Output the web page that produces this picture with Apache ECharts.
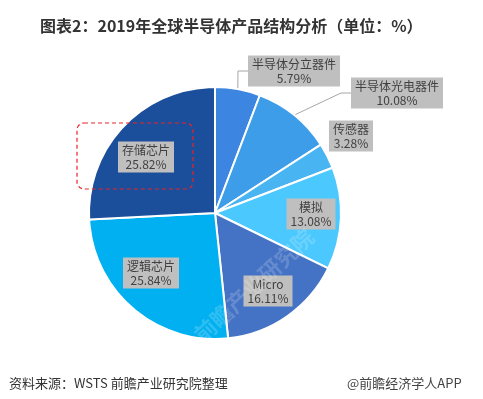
<!DOCTYPE html>
<html>
<head>
    <meta charset="utf-8">
    <title>2019年全球半导体产品结构分析</title>
    <script src="https://cdn.jsdelivr.net/npm/echarts@6/dist/echarts.min.js"></script>
    <style>
        html, body { margin: 0; padding: 0; background: #fff; }
        #chart1 { width: 483px; height: 399px; }
    </style>
</head>
<body>
<div id="chart1"></div>
<script>
    // 数据（单位：%）
    var names = ['半导体分立器件', '半导体光电器件', '传感器', '模拟', 'Micro', '逻辑芯片', '存储芯片'];
    var values = [5.79, 10.08, 3.28, 13.08, 16.11, 25.84, 25.82];
    var colors = ['#3C85E0', '#3E9DE9', '#48B4F2', '#4BC8FE', '#4472C4', '#00B0F0', '#1B4F9B'];
    // 标签框中心位置
    var labelPos = [[294, 71], [397, 93], [351, 136], [311, 214], [268, 291], [151, 273], [146, 157]];
    var outside = [true, true, false, false, false, false, false];

    var myChart1 = echarts.init(document.getElementById('chart1'));
    var font = '"Noto Sans CJK SC", "Microsoft YaHei", sans-serif';

    var pieData = [];
    for (var i = 0; i < names.length; i++) {
        pieData.push({
            name: names[i],
            value: values[i],
            itemStyle: { color: colors[i] },
            label: { position: outside[i] ? 'outside' : 'inside' },
            labelLine: { show: outside[i] }
        });
    }

    myChart1.setOption({
        animation: false,
        backgroundColor: '#fff',
        title: {
            text: '图表2：2019年全球半导体产品结构分析（单位：%）',
            left: 35,
            top: 13,
            textStyle: { fontFamily: font, fontSize: 16, fontWeight: 'bold', color: '#333' }
        },
        graphic: [
            {
                type: 'rect',
                shape: { x: 77, y: 123, width: 116, height: 66, r: 7 },
                style: { fill: 'none', stroke: '#E8242A', lineWidth: 1.2, lineDash: [4, 3] },
                z: 10
            },
            {
                type: 'text',
                left: 9, top: 377,
                style: { text: '资料来源：WSTS 前瞻产业研究院整理', font: '13px ' + font, fill: '#333' }
            },
            {
                type: 'text',
                left: 347, top: 377,
                style: { text: '@前瞻经济学人APP', font: '13px ' + font, fill: '#444' }
            },
            {
                type: 'text',
                x: 190, y: 330, rotation: 0.75,
                style: { text: '前瞻产业研究院', font: 'bold 22px ' + font, fill: 'rgba(255,255,255,0.18)' },
                z: 20
            }
        ],
        series: [{
            type: 'pie',
            center: [215, 213],
            radius: 126,
            startAngle: 90,
            clockwise: true,
            itemStyle: { borderColor: '#fff', borderWidth: 2 },
            label: {
                formatter: '{b}\n{c}%',
                fontFamily: font,
                fontSize: 12,
                lineHeight: 14,
                color: '#404040',
                backgroundColor: '#BFBFBF',
                padding: [2, 4, 1, 4]
            },
            labelLine: {
                lineStyle: { color: '#A6A6A6', width: 1 },
                length: 10,
                length2: 10
            },
            labelLayout: function (params) {
                var p = labelPos[params.dataIndex];
                return { x: p[0], y: p[1], align: 'center', verticalAlign: 'middle' };
            },
            data: pieData
        }]
    });
</script>
</body>
</html>
